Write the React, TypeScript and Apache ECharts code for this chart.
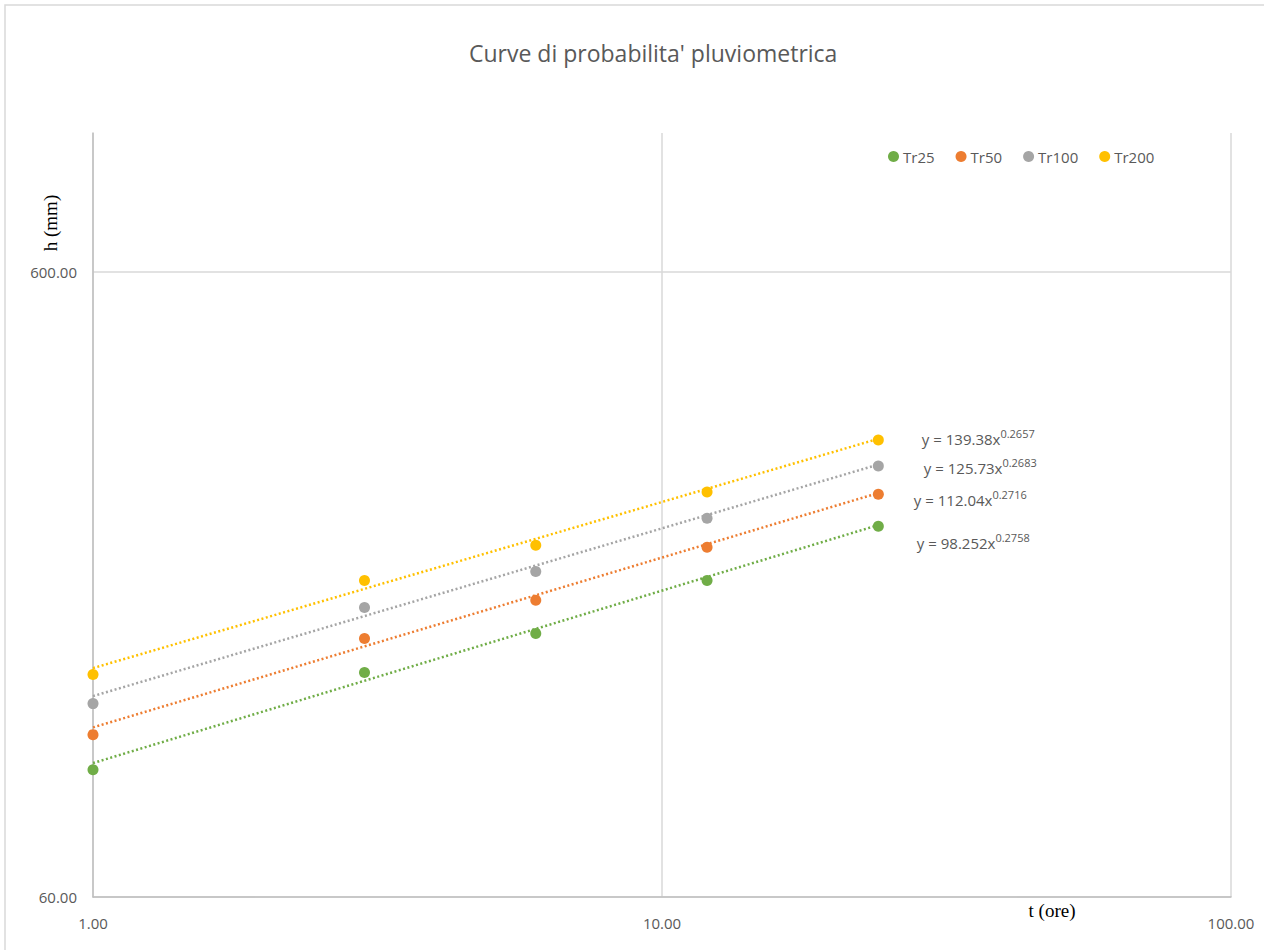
import React, { useEffect, useRef } from "react";
import * as echarts from "echarts";

const durations = [1, 3, 6, 12, 24];
const seriesNames = ["Tr25", "Tr50", "Tr100", "Tr200"];
const tr25 = [95.9, 137.2, 158.4, 192.5, 235.0];
const tr50 = [109.1, 155.4, 178.9, 217.5, 264.5];
const tr100 = [122.3, 174.3, 199.0, 242.1, 293.3];
const tr200 = [136.1, 192.5, 219.1, 266.5, 322.8];
const trendA = [98.252, 112.04, 125.73, 139.38];
const trendB = [0.2758, 0.2716, 0.2683, 0.2657];
const trendLabels = ["98.252", "112.04", "125.73", "139.38"];
const trendExps = ["0.2758", "0.2716", "0.2683", "0.2657"];
const colors = ["#70ad47", "#ed7d31", "#a5a5a5", "#ffc000"];
const yTicks = [60, 600];

const labelOffsets = [
  [28, 17],
  [25, 6],
  [35, 2],
  [33, -1],
];

export default function App() {
  const ref = useRef<HTMLDivElement>(null);
  useEffect(() => {
    if (!ref.current) return;
    const chart = echarts.init(ref.current, null, { renderer: "svg" });
    const values = [tr25, tr50, tr100, tr200];
    const font = "'Open Sans', Lato, sans-serif";
    const serif = "'Liberation Serif', 'Times New Roman', serif";
    const scatterSeries = seriesNames.map((name, i) => ({
      name,
      type: "scatter",
      symbol: "circle",
      symbolSize: 11,
      itemStyle: { color: colors[i], opacity: 1 },
      z: 3,
      data: durations.map((d, j) => {
        const pt: any = { value: [d, values[i][j]] };
        if (j === durations.length - 1) {
          pt.label = {
            show: true,
            position: "right",
            offset: labelOffsets[i],
            formatter: `{a|y = ${trendLabels[i]}x}{b|${trendExps[i]}}`,
            rich: {
              a: { fontSize: 15, fontFamily: font, color: "#595959", lineHeight: 22 },
              b: { fontSize: 11, fontFamily: font, color: "#595959", lineHeight: 13, verticalAlign: "top" },
            },
          };
        }
        return pt;
      }),
    }));
    const trendSeries = seriesNames.map((name, i) => {
      const x0 = durations[0];
      const x1 = durations[durations.length - 1];
      return {
        name: name + " trend",
        type: "line",
        showSymbol: false,
        symbol: "none",
        silent: true,
        z: 2,
        lineStyle: { color: colors[i], width: 2.5, type: [2, 2.5] },
        data: [
          [x0, trendA[i] * Math.pow(x0, trendB[i])],
          [x1, trendA[i] * Math.pow(x1, trendB[i])],
        ],
      };
    });
    chart.setOption({
      animation: false,
      backgroundColor: "#ffffff",
      title: {
        text: "Curve di probabilita' pluviometrica",
        left: 464,
        top: 36,
        textStyle: { fontFamily: font, fontSize: 23, fontWeight: "normal", color: "#595959" },
      },
      legend: {
        data: seriesNames,
        left: 883,
        top: 144,
        itemWidth: 11,
        itemHeight: 11,
        itemGap: 21,
        icon: "circle",
        textStyle: { fontFamily: font, fontSize: 15, color: "#595959", padding: [0, 0, 0, -1] },
      },
      grid: { left: 93, right: 33, top: 133, bottom: 53 },
      xAxis: {
        type: "log",
        logBase: 10,
        min: 1,
        max: 100,
        axisLine: { show: true, lineStyle: { color: "#bfbfbf", width: 1.5 } },
        axisTick: { show: false },
        axisLabel: {
          margin: 18,
          fontFamily: font,
          fontSize: 15,
          color: "#595959",
          formatter: (v: number) => v.toFixed(2),
        },
        splitLine: { show: true, lineStyle: { color: "#d9d9d9", width: 1.5 } },
      },
      yAxis: {
        type: "log",
        logBase: 10,
        min: 60,
        max: 1000,
        axisLine: { show: true, lineStyle: { color: "#bfbfbf", width: 1.5 } },
        axisTick: { show: false, customValues: yTicks },
        axisLabel: {
          margin: 16,
          fontFamily: font,
          fontSize: 15,
          color: "#595959",
          padding: [4, 0, 0, 0],
          customValues: yTicks,
          formatter: (v: number) => v.toFixed(2),
        },
        splitLine: { show: true, lineStyle: { color: "#d9d9d9", width: 1.5 } },
      },
      graphic: [
        {
          type: "rect",
          shape: { x: 5, y: 5, width: 1300, height: 1000 },
          style: { fill: "none", stroke: "#d9d9d9", lineWidth: 1.5 },
          silent: true,
        },
        {
          type: "text",
          x: 50,
          y: 223,
          rotation: Math.PI / 2,
          style: {
            text: "h (mm)",
            fontFamily: serif,
            fontSize: 19,
            fill: "#000000",
            align: "center",
            verticalAlign: "middle",
          },
        },
        {
          type: "text",
          x: 1052,
          y: 910,
          style: {
            text: "t (ore)",
            fontFamily: serif,
            fontSize: 19,
            fill: "#000000",
            align: "center",
            verticalAlign: "middle",
          },
        },
      ],
      series: [...trendSeries, ...scatterSeries],
    });
    return () => chart.dispose();
  }, []);
  return (
    <div
      ref={ref}
      style={{ position: "absolute", left: 0, top: 0, width: 1264, height: 950 }}
    />
  );
}
